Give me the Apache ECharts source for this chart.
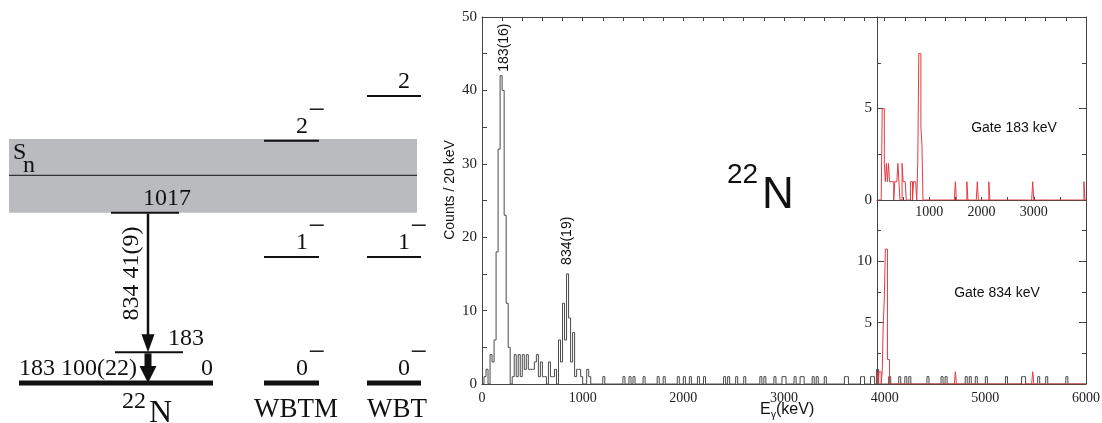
<!DOCTYPE html>
<html><head><meta charset="utf-8">
<script src="https://cdn.jsdelivr.net/npm/echarts@6/dist/echarts.min.js"></script>
<style>html,body{margin:0;padding:0;background:#fff}#c{width:1102px;height:423px}</style>
</head><body><div id="c"></div>
<script>
// ---------------- DATA ----------------
// Level scheme (keV)
const expLevelE = [0, 183, 1017];
const expLevelLabel = ['0', '183', '1017'];
const wbtmLevelE = [0, 752, 1447];
const wbtmSpin = ['0', '1', '2'];
const wbtmParity = ['−', '−', '−'];
const wbtLevelE = [0, 752, 1713];
const wbtSpin = ['0', '1', '2'];
const wbtParity = ['−', '−', ''];
const snE = 1240;
const snBand = [1017, 1457];
const gammaFrom = [1017, 183];
const gammaTo = [183, 0];
const gammaLabel = ['834 41(9)', '183 100(22)'];
const columnNames = ['WBTM', 'WBT'];

// Spectra: 20 keV bins, [bin lower edge keV, counts]; bins not listed are empty
const BIN = 20;
const mainSpec = [
  [20,1],[40,2],[80,4],[100,3],[120,6],[140,18],[160,32],[180,42],[200,40],[220,23],
  [240,11],[260,5],[300,1],[320,4],[340,1],[360,4],[380,1],[400,4],[420,2],[440,4],
  [460,2],[480,2],[500,2],[520,3],[540,4],[560,1],[580,3],[600,1],[620,1],[660,3],
  [680,1],[700,1],[720,2],[760,6],[780,3],[800,11],[820,6],[840,15],[860,9],[880,3],
  [900,7],[920,1],[940,2],[960,2],[980,1],[1040,2],[1060,1],
  [1200,1],[1400,1],[1460,1],[1500,1],[1600,1],[1740,1],[1800,1],[1940,1],[2000,1],
  [2060,1],[2140,1],[2200,1],[2400,1],[2440,1],[2520,1],[2600,1],[2760,1],[2800,1],
  [2900,1],[2980,1],[3000,1],[3100,1],[3160,1],[3180,1],[3280,1],[3320,1],[3400,1],
  [3600,1],[3620,1],[3760,1],[3780,1],[3860,1],[3880,1],[3920,2],[4040,1],[4140,1],
  [4200,1],[4240,1],[4420,1],[4560,1],[4600,1],[4800,1],[4840,1],[4900,1],[5000,1],
  [5200,1],[5360,1],[5380,1],[5520,1],[5600,1],[5800,1]
];
const gate183Spec = [
  [100,5],[120,5],[140,2],[160,1],[180,2],[200,1],[220,2],[240,1],[260,1],[280,1],
  [300,1],[340,1],[360,1],[380,1],[400,2],[420,1],[480,2],[500,1],[520,1],[540,1],
  [640,1],[660,1],[700,1],[720,1],[740,1],[780,2],[800,8],[820,8],[840,4],[860,3],
  [1500,1],[1720,1],[1920,1],[2140,1],[2980,1],[3960,1]
];
const gate834Spec = [
  [0,1],[40,1],[60,1],[100,1],[120,5],[140,7],[160,11],[180,11],[200,2],[220,2],
  [1500,1],[2980,1]
];
const peakE = [190, 850];
const peakCounts = [42, 15];
const peakText = ['183(16)', '834(19)'];
const mainTicks = [0, 1000, 2000, 3000, 4000, 5000, 6000];

// ---------------- LAYOUT (pixels / layout units, not data) ----------------
const EXP_SPAN = [[10, 204], [106, 174], [102, 170]];
const EXP_LABEL = [[204, 'right'], [159, 'left'], [134, 'left']];
const ARROW_X = 139;
const THEORY_SPAN = [[255, 310], [358, 412]];
const SERIF = '"Liberation Serif", "Times New Roman", serif';
const SANS = '"Liberation Sans", Arial, sans-serif';
const INK = '#111';
const AX = '#444';

function toSteps(sparse, maxE) {
  const dense = new Array(maxE / BIN).fill(0);
  sparse.forEach(([e, c]) => { dense[Math.round(e / BIN)] = c; });
  const pts = dense.map((c, i) => [i * BIN, c]);
  pts.push([maxE, 0]);
  return pts;
}

function txt(x, y, text, font, align, vAlign, extra) {
  return Object.assign({
    type: 'text', x: x, y: y,
    style: { text: text, font: font, fill: INK, align: align || 'left', verticalAlign: vAlign || 'middle',
             textAlign: align || 'left', textVerticalAlign: vAlign || 'middle' }
  }, extra || {});
}

// ---------------- RENDERERS ----------------
function renderBand(params, api) {
  const lo = api.value(1), hi = api.value(2), sn = api.value(3);
  const a = api.coord([0, hi]), b = api.coord([408, lo]);
  const s0 = api.coord([0, sn]), s1 = api.coord([408, sn]);
  return { type: 'group', children: [
    { type: 'rect', shape: { x: a[0], y: a[1], width: b[0] - a[0], height: b[1] - a[1] }, style: { fill: '#b9bbbe' } },
    { type: 'line', shape: { x1: s0[0], y1: s0[1], x2: s1[0], y2: s1[1] }, style: { stroke: INK, lineWidth: 1 } },
    txt(s0[0] + 4, s0[1] - 23, 'S', '24px ' + SERIF),
    txt(s0[0] + 14, s0[1] - 10, 'n', '24px ' + SERIF)
  ] };
}

function renderExpLevel(params, api) {
  const i = params.dataIndex, E = api.value(1);
  const p0 = api.coord([EXP_SPAN[i][0], E]), p1 = api.coord([EXP_SPAN[i][1], E]);
  const pl = api.coord([EXP_LABEL[i][0], E]);
  return { type: 'group', children: [
    { type: 'line', shape: { x1: p0[0], y1: p0[1], x2: p1[0], y2: p1[1] }, style: { stroke: INK, lineWidth: i === 0 ? 5 : 2 } },
    txt(pl[0], pl[1] - 14, expLevelLabel[i], '24px ' + SERIF, EXP_LABEL[i][1])
  ] };
}

function makeTheoryRenderer(col, spins, parities) {
  return function (params, api) {
    const i = params.dataIndex, E = api.value(1);
    const p0 = api.coord([THEORY_SPAN[col][0], E]), p1 = api.coord([THEORY_SPAN[col][1], E]);
    const children = [
      { type: 'line', shape: { x1: p0[0], y1: p0[1], x2: p1[0], y2: p1[1] }, style: { stroke: INK, lineWidth: i === 0 ? 5 : 2 } },
      txt(p1[0] - 11, p1[1] - 14, spins[i], '24px ' + SERIF, 'right')
    ];
    if (parities[i]) children.push(txt(p1[0] - 2, p1[1] - 30, parities[i], '30px ' + SERIF, 'center'));
    return { type: 'group', children: children };
  };
}

function renderGamma(params, api) {
  const i = params.dataIndex;
  const top = api.coord([ARROW_X, api.value(1)]), tip = api.coord([ARROW_X, api.value(2)]);
  const x = top[0];
  const shaft = i === 0 ? 2.5 : 7, hw = i === 0 ? 6.5 : 8.5, hl = i === 0 ? 18 : 17;
  const children = [
    { type: 'line', shape: { x1: x, y1: top[1] + 1, x2: x, y2: tip[1] - hl + 1 }, style: { stroke: INK, lineWidth: shaft } },
    { type: 'polygon', shape: { points: [[x - hw, tip[1] - hl], [x + hw, tip[1] - hl], [x, tip[1]]] }, style: { fill: INK } }
  ];
  if (i === 0) {
    children.push(txt(x - 16, (top[1] + tip[1]) / 2 - 9, gammaLabel[i], '24px ' + SERIF, 'center', 'middle', { rotation: Math.PI / 2 }));
  } else {
    children.push(txt(x - 11, tip[1] - 14, gammaLabel[i], '24px ' + SERIF, 'right'));
  }
  return { type: 'group', children: children };
}

const PEAK_OFF = [[3, 4], [0, 9]];
function renderPeakLabel(params, api) {
  const i = params.dataIndex;
  const p = api.coord([api.value(0), api.value(1)]);
  return txt(p[0] + PEAK_OFF[i][0], p[1] - PEAK_OFF[i][1], peakText[i], '14px ' + SANS, 'left', 'middle', { rotation: Math.PI / 2 });
}

// ---------------- OPTION ----------------
const axLine = { show: true, lineStyle: { color: AX, width: 1 } };
const noSplit = { show: false };
const labelSerif = (fmt, margin) => ({ show: true, formatter: fmt, fontFamily: SERIF, fontSize: 15, color: '#222', margin: margin });

const option = {
  animation: false,
  backgroundColor: '#fff',
  grid: [
    { left: 9, top: 81.5, width: 412, height: 301.5, outerBoundsMode: 'none' },
    { left: 482, top: 17, right: 16, bottom: 39, outerBoundsMode: 'none' },
    { left: 877, top: 17, right: 16, height: 183, outerBoundsMode: 'none' },
    { left: 877, top: 200, right: 16, bottom: 39, outerBoundsMode: 'none' }
  ],
  xAxis: [
    { gridIndex: 0, type: 'value', min: 0, max: 412, show: false },
    { gridIndex: 1, type: 'value', min: 0, max: 6000, interval: 1000, axisLine: axLine, axisTick: { show: false },
      axisLabel: { show: true, fontFamily: SERIF, fontSize: 14, color: '#222', margin: 7,
        formatter: v => mainTicks.indexOf(v) >= 0 ? String(v) : '' }, splitLine: noSplit },
    { gridIndex: 1, type: 'value', position: 'top', min: 0, max: 6000, interval: 200, axisLine: axLine,
      axisTick: { show: true, inside: true, length: 4, lineStyle: { color: AX } }, axisLabel: { show: false }, splitLine: noSplit },
    { gridIndex: 2, type: 'value', min: 0, max: 4000, interval: 500, axisLine: axLine,
      axisTick: { show: true, inside: true, length: 3, lineStyle: { color: AX } },
      axisLabel: { show: true, fontFamily: SERIF, fontSize: 14, color: '#222', margin: 5,
        formatter: v => (v % 1000 === 0 && v > 0 && v < 4000) ? String(v) : '' }, splitLine: noSplit },
    { gridIndex: 3, type: 'value', min: 0, max: 4000, show: false }
  ],
  yAxis: [
    { gridIndex: 0, type: 'value', min: 0, max: 1800, show: false },
    { gridIndex: 1, type: 'value', min: 0, max: 50, interval: 5, axisLine: axLine,
      axisTick: { show: true, inside: true, length: 5, lineStyle: { color: AX } },
      axisLabel: labelSerif(v => v % 10 === 0 ? String(v) : '', 5), splitLine: noSplit },
    { gridIndex: 2, type: 'value', min: 0, max: 10, interval: 5, axisLine: axLine,
      axisTick: { show: true, inside: true, length: 7, lineStyle: { color: AX } },
      minorTick: { show: true, splitNumber: 2, length: 4, lineStyle: { color: AX } },
      axisLabel: labelSerif(v => (v === 0 || v === 5) ? String(v) : '', 5), splitLine: noSplit, minorSplitLine: noSplit },
    { gridIndex: 2, type: 'value', position: 'right', min: 0, max: 10, interval: 5, axisLine: axLine,
      axisTick: { show: true, inside: true, length: 7, lineStyle: { color: AX } },
      minorTick: { show: true, splitNumber: 2, length: 4, lineStyle: { color: AX } },
      axisLabel: { show: false }, splitLine: noSplit },
    { gridIndex: 3, type: 'value', min: 0, max: 15, interval: 5, axisLine: axLine,
      axisTick: { show: true, inside: true, length: 7, lineStyle: { color: AX } },
      minorTick: { show: true, splitNumber: 2, length: 4, lineStyle: { color: AX } },
      axisLabel: labelSerif(v => (v === 5 || v === 10) ? String(v) : '', 5), splitLine: noSplit },
    { gridIndex: 3, type: 'value', position: 'right', min: 0, max: 15, interval: 5, axisLine: axLine,
      axisTick: { show: true, inside: true, length: 7, lineStyle: { color: AX } },
      minorTick: { show: true, splitNumber: 2, length: 4, lineStyle: { color: AX } },
      axisLabel: { show: false }, splitLine: noSplit }
  ],
  series: [
    { type: 'custom', xAxisIndex: 0, yAxisIndex: 0, z: 1, silent: true, clip: false,
      data: [[0, snBand[0], snBand[1], snE]], renderItem: renderBand },
    { type: 'custom', xAxisIndex: 0, yAxisIndex: 0, z: 3, silent: true, clip: false,
      data: expLevelE.map(e => [0, e]), renderItem: renderExpLevel },
    { type: 'custom', xAxisIndex: 0, yAxisIndex: 0, z: 3, silent: true, clip: false,
      data: wbtmLevelE.map(e => [0, e]), renderItem: makeTheoryRenderer(0, wbtmSpin, wbtmParity) },
    { type: 'custom', xAxisIndex: 0, yAxisIndex: 0, z: 3, silent: true, clip: false,
      data: wbtLevelE.map(e => [0, e]), renderItem: makeTheoryRenderer(1, wbtSpin, wbtParity) },
    { type: 'custom', xAxisIndex: 0, yAxisIndex: 0, z: 4, silent: true, clip: false,
      data: gammaFrom.map((e, i) => [0, e, gammaTo[i]]), renderItem: renderGamma },
    { type: 'line', xAxisIndex: 1, yAxisIndex: 1, step: 'end', symbol: 'none', showSymbol: false, silent: true,
      data: toSteps(mainSpec, 6000), lineStyle: { color: '#4a4a4a', width: 1 }, z: 2 },
    { type: 'custom', xAxisIndex: 1, yAxisIndex: 1, silent: true, clip: false,
      data: peakE.map((e, i) => [e, peakCounts[i]]), renderItem: renderPeakLabel },
    { type: 'line', xAxisIndex: 3, yAxisIndex: 2, step: 'end', symbol: 'none', showSymbol: false, silent: true,
      data: toSteps(gate183Spec, 4000), lineStyle: { color: '#e53a40', width: 1 }, z: 3 },
    { type: 'line', xAxisIndex: 4, yAxisIndex: 4, step: 'end', symbol: 'none', showSymbol: false, silent: true,
      data: toSteps(gate834Spec, 4000), lineStyle: { color: '#e53a40', width: 1 }, z: 3 }
  ],
  graphic: [
    txt(727, 175, '22', '28px ' + SANS),
    txt(762, 196, 'N', '44px ' + SANS),
    txt(1014, 128, 'Gate 183 keV', '14px ' + SANS, 'center'),
    txt(997, 293, 'Gate 834 keV', '14px ' + SANS, 'center'),
    txt(450, 190, 'Counts / 20 keV', '14px ' + SANS, 'center', 'middle', { rotation: Math.PI / 2 }),
    txt(760, 410, 'E', '16px ' + SANS),
    txt(771, 415, 'γ', '10px ' + SANS),
    txt(776, 410, '(keV)', '16px ' + SANS),
    txt(122, 402, '22', '24px ' + SERIF),
    txt(149, 414, 'N', '32px ' + SERIF),
    txt(296, 410, columnNames[0], '27px ' + SERIF, 'center'),
    txt(397, 410, columnNames[1], '27px ' + SERIF, 'center')
  ]
};

const chart = echarts.init(document.getElementById('c'), null, { renderer: 'canvas' });
chart.setOption(option);
</script></body></html>
